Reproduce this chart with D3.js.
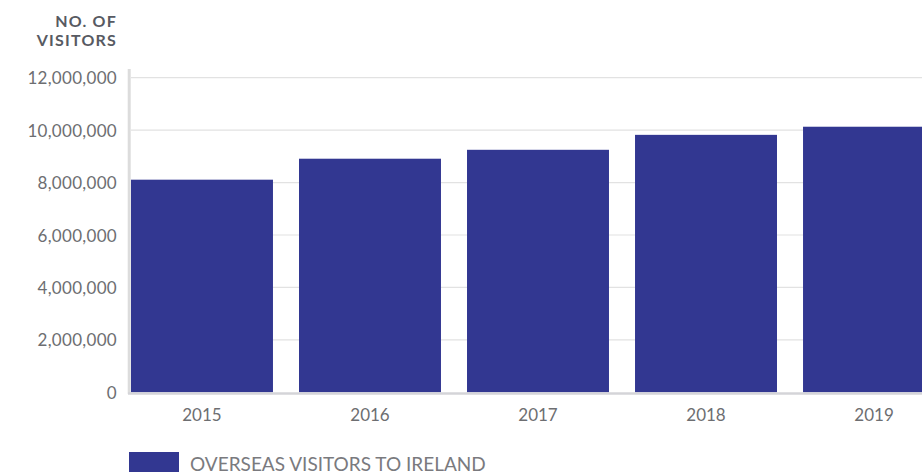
<!DOCTYPE html>
<html><head><meta charset="utf-8">
<script src="https://cdn.jsdelivr.net/npm/d3@7"></script>
<style>body{margin:0;background:#fff;} svg{display:block;} svg text{font-family:Lato, "Open Sans", sans-serif;}</style>
</head><body>
<svg id="chart" width="922" height="475"></svg>
<script>
const categories = ["2015","2016","2017","2018","2019"];
const visitors = [8110000, 8910000, 9250000, 9820000, 10130000];
const yTicks = [0, 2000000, 4000000, 6000000, 8000000, 10000000, 12000000];
const seriesName = "OVERSEAS VISITORS TO IRELAND";
const yTitle = ["NO. OF", "VISITORS"];

const svg = d3.select("#chart");
const barColor = "#323791";
const font = 'Lato, "Open Sans", sans-serif';
const x = d3.scaleBand().domain(categories).range([131, 945]).paddingInner(0.155).paddingOuter(0);
const y = d3.scaleLinear().domain([0, 12000000]).range([392.3, 77.7]);
const fmt = d3.format(",");

// gridlines
svg.append("g").selectAll("line").data(yTicks.slice(1)).join("line")
  .attr("x1", 131).attr("x2", 922).attr("y1", d => y(d)).attr("y2", d => y(d))
  .attr("stroke", "#e2e2e2").attr("stroke-width", 1.2);

// bars
svg.append("g").selectAll("rect").data(categories).join("rect")
  .attr("x", d => x(d)).attr("width", x.bandwidth())
  .attr("y", (d,i) => y(visitors[i])).attr("height", (d,i) => y(0) - y(visitors[i]))
  .attr("fill", barColor);

// y axis line
svg.append("line").attr("x1", 129.2).attr("x2", 129.2).attr("y1", 69).attr("y2", 394)
  .attr("stroke", "#dcdcdc").attr("stroke-width", 3);
// x axis line
svg.append("line").attr("x1", 128).attr("x2", 922).attr("y1", 393.5).attr("y2", 393.5)
  .attr("stroke", "#d4d4d8").attr("stroke-width", 2.5);

// y axis via d3
const yAxis = d3.axisLeft(y).tickValues(yTicks).tickFormat(fmt).tickSize(0).tickPadding(0);
const gy = svg.append("g").attr("transform", "translate(117,0)").call(yAxis)
  .attr("font-family", font);
gy.select(".domain").remove();
gy.selectAll("text").attr("fill", "#6d6e71").attr("font-size", 17).attr("letter-spacing", 0.3).attr("dy", "0.36em");

// x axis via d3
const xAxis = d3.axisBottom(x).tickSize(0).tickPadding(0);
const gx = svg.append("g").attr("transform", "translate(0,409)").call(xAxis)
  .attr("font-family", font);
gx.select(".domain").remove();
gx.selectAll("text").attr("fill", "#6d6e71").attr("font-size", 17).attr("dy", "0.71em");

// title
svg.append("text").attr("x", 117).attr("y", 26.5).attr("text-anchor", "end")
  .attr("font-weight", "bold").attr("font-size", 16).attr("letter-spacing", 1.2).attr("fill", "#575a62")
  .selectAll("tspan").data(yTitle).join("tspan")
  .attr("x", 117).attr("dy", (d,i) => i ? 19.5 : 0).text(d => d);

// legend
svg.append("rect").attr("x", 129).attr("y", 452).attr("width", 50).attr("height", 20).attr("fill", barColor);
svg.append("text").attr("x", 190).attr("y", 470.5).attr("font-size", 19).attr("fill", "#7a7a7e").text(seriesName);
</script>
</body></html>
